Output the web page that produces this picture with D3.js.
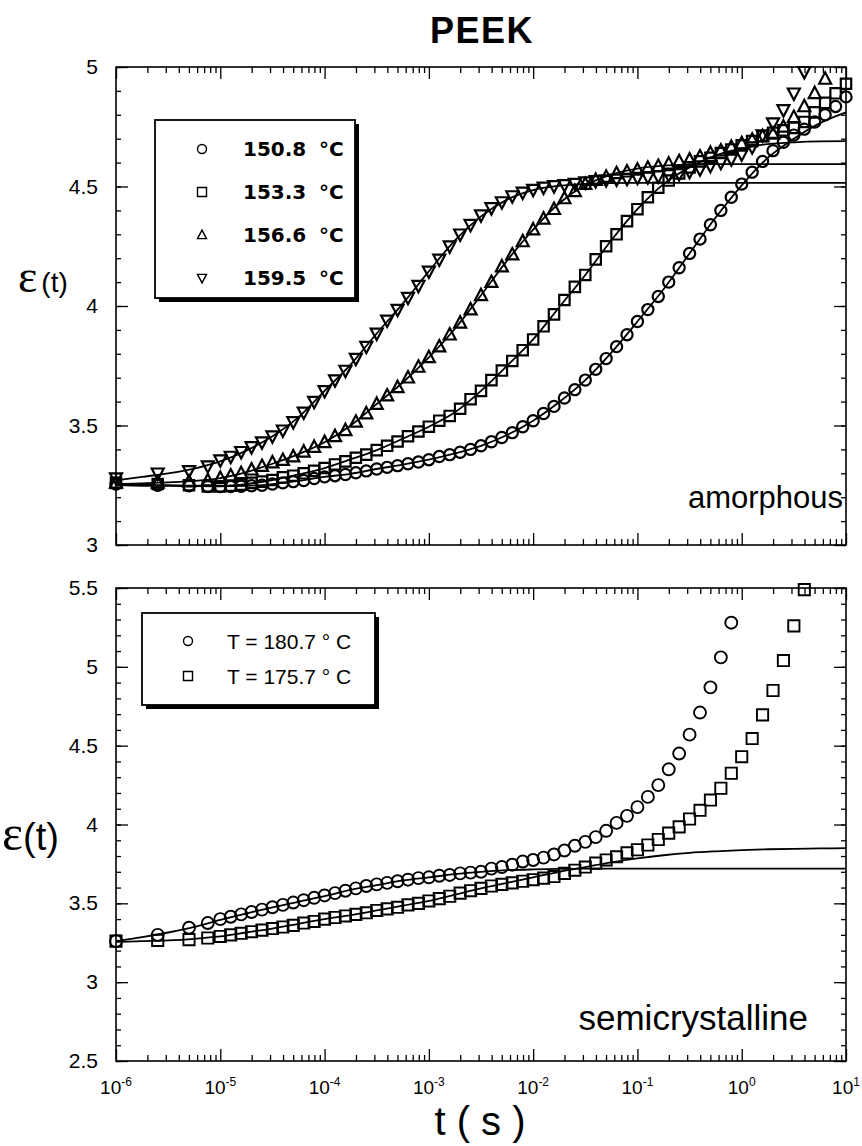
<!DOCTYPE html>
<html>
<head>
<meta charset="utf-8">
<script src="https://cdn.jsdelivr.net/npm/d3@7"></script>
<style>
body { margin: 0; background: #fff; }
text { font-family: "Liberation Sans", Arial, sans-serif; fill: #000; }
</style>
</head>
<body>
<div id="chart"></div>
<script>
// measurement times, log10(t / s)
var logT = [-6, -5.6, -5.3, -5.12,
  -5.0, -4.9, -4.8, -4.7, -4.6, -4.5, -4.4, -4.3, -4.2, -4.1,
  -4.0, -3.9, -3.8, -3.7, -3.6, -3.5, -3.4, -3.3, -3.2, -3.1,
  -3.0, -2.9, -2.8, -2.7, -2.6, -2.5, -2.4, -2.3, -2.2, -2.1,
  -2.0, -1.9, -1.8, -1.7, -1.6, -1.5, -1.4, -1.3, -1.2, -1.1,
  -1.0, -0.9, -0.8, -0.7, -0.6, -0.5, -0.4, -0.3, -0.2, -0.1,
  0.0, 0.1, 0.2, 0.3, 0.4, 0.5, 0.6, 0.7, 0.8, 0.9, 1.0];

// amorphous PEEK, measured eps(t)
var am150_8 = [3.255, 3.25, 3.248, 3.245,
  3.245, 3.245, 3.246, 3.248, 3.25, 3.255, 3.26, 3.265, 3.27, 3.278,
  3.285, 3.29, 3.295, 3.302, 3.31, 3.318, 3.325, 3.332, 3.34, 3.347,
  3.357, 3.37, 3.378, 3.388, 3.40, 3.415, 3.432, 3.45, 3.47, 3.495,
  3.52, 3.55, 3.58, 3.615, 3.65, 3.69, 3.735, 3.78, 3.83, 3.88,
  3.935, 3.985, 4.04, 4.10, 4.16, 4.22, 4.28, 4.34, 4.40, 4.455,
  4.51, 4.56, 4.605, 4.65, 4.685, 4.715, 4.74, 4.77, 4.80, 4.835, 4.875];
var am153_3 = [3.26, 3.255, 3.25, 3.245,
  3.245, 3.248, 3.252, 3.26, 3.265, 3.272, 3.283, 3.29, 3.30, 3.31,
  3.322, 3.337, 3.35, 3.365, 3.378, 3.397, 3.415, 3.433, 3.455, 3.475,
  3.495, 3.52, 3.54, 3.57, 3.61, 3.645, 3.69, 3.73, 3.77, 3.815,
  3.86, 3.915, 3.965, 4.025, 4.08, 4.13, 4.195, 4.25, 4.30, 4.355,
  4.405, 4.455, 4.495, 4.525, 4.555, 4.58, 4.605, 4.62, 4.64, 4.655,
  4.672, 4.69, 4.71, 4.725, 4.735, 4.745, 4.77, 4.81, 4.85, 4.89, 4.93];
var am156_6 = [3.26, 3.26, 3.265, 3.27,
  3.28, 3.29, 3.30, 3.315, 3.33, 3.345, 3.355, 3.37, 3.39, 3.41,
  3.43, 3.455, 3.48, 3.515, 3.55, 3.59, 3.625, 3.66, 3.70, 3.745,
  3.785, 3.83, 3.88, 3.93, 3.985, 4.045, 4.10, 4.165, 4.215, 4.27,
  4.32, 4.365, 4.405, 4.45, 4.48, 4.51, 4.527, 4.54, 4.555, 4.562,
  4.57, 4.578, 4.585, 4.595, 4.605, 4.612, 4.625, 4.64, 4.65, 4.665,
  4.68, 4.695, 4.71, 4.72, 4.75, 4.79, 4.835, 4.89, 4.95];
var am159_5 = [3.28, 3.30, 3.31, 3.33,
  3.355, 3.37, 3.39, 3.41, 3.43, 3.455, 3.48, 3.515, 3.555, 3.60,
  3.645, 3.69, 3.73, 3.78, 3.83, 3.885, 3.94, 3.985, 4.035, 4.085,
  4.145, 4.195, 4.25, 4.30, 4.34, 4.38, 4.41, 4.435, 4.46, 4.475,
  4.487, 4.496, 4.502, 4.507, 4.512, 4.518, 4.523, 4.527, 4.53, 4.533,
  4.537, 4.54, 4.543, 4.548, 4.553, 4.562, 4.573, 4.587, 4.60, 4.615,
  4.635, 4.665, 4.715, 4.765, 4.82, 4.89, 4.98];

// semicrystalline PEEK, measured eps(t)
var sc180_7 = [3.26, 3.30, 3.345, 3.375,
  3.40, 3.415, 3.43, 3.445, 3.46, 3.475, 3.49, 3.505, 3.52, 3.535,
  3.55, 3.565, 3.58, 3.595, 3.61, 3.62, 3.63, 3.64, 3.65, 3.66,
  3.665, 3.675, 3.68, 3.69, 3.695, 3.70, 3.72, 3.73, 3.745, 3.765,
  3.775, 3.79, 3.81, 3.835, 3.865, 3.89, 3.92, 3.96, 4.01, 4.055,
  4.11, 4.175, 4.25, 4.35, 4.45, 4.57, 4.71, 4.87, 5.06, 5.28];
var sc175_7 = [3.26, 3.265, 3.27, 3.28,
  3.29, 3.30, 3.31, 3.32, 3.33, 3.34, 3.35, 3.36, 3.375, 3.385,
  3.40, 3.41, 3.42, 3.43, 3.44, 3.455, 3.465, 3.475, 3.49, 3.50,
  3.515, 3.53, 3.545, 3.565, 3.58, 3.595, 3.61, 3.62, 3.63, 3.64,
  3.65, 3.66, 3.67, 3.69, 3.71, 3.73, 3.755, 3.775, 3.795, 3.82,
  3.84, 3.87, 3.905, 3.945, 3.985, 4.035, 4.09, 4.155, 4.23, 4.325,
  4.43, 4.545, 4.695, 4.85, 5.04, 5.26, 5.49];

// fitted curves, log10(t / s)
var fitLogT = [-6, -5.75, -5.5, -5.25, -5, -4.75, -4.5, -4.25, -4, -3.75,
  -3.5, -3.25, -3, -2.75, -2.5, -2.25, -2, -1.75, -1.5, -1.25,
  -1, -0.75, -0.5, -0.25, 0, 0.25, 0.5, 0.75, 1];
var fit150_8 = [3.25, 3.248, 3.247, 3.246, 3.245, 3.247, 3.255, 3.268, 3.285, 3.298,
  3.318, 3.336, 3.357, 3.383, 3.415, 3.46, 3.52, 3.598, 3.69, 3.805,
  3.935, 4.07, 4.22, 4.37, 4.505, 4.62, 4.70, 4.765, 4.81];
var fit153_3 = [3.255, 3.252, 3.25, 3.248, 3.248, 3.255, 3.272, 3.295, 3.322, 3.358,
  3.397, 3.445, 3.495, 3.555, 3.645, 3.75, 3.86, 3.995, 4.13, 4.275,
  4.405, 4.51, 4.58, 4.63, 4.66, 4.677, 4.685, 4.689, 4.69];
var fit156_6 = [3.255, 3.258, 3.262, 3.268, 3.28, 3.305, 3.34, 3.38, 3.43, 3.50,
  3.59, 3.68, 3.785, 3.905, 4.045, 4.19, 4.32, 4.43, 4.505, 4.55,
  4.575, 4.587, 4.592, 4.594, 4.594, 4.594, 4.594, 4.594, 4.594];
var fit159_5 = [3.27, 3.285, 3.30, 3.32, 3.35, 3.395, 3.455, 3.535, 3.645, 3.755,
  3.885, 4.01, 4.145, 4.275, 4.375, 4.445, 4.485, 4.503, 4.511, 4.514,
  4.515, 4.515, 4.515, 4.515, 4.515, 4.515, 4.515, 4.515, 4.515];
var fit180_7 = [3.26, 3.285, 3.315, 3.35, 3.395, 3.435, 3.475, 3.51, 3.545, 3.585,
  3.615, 3.645, 3.665, 3.685, 3.70, 3.71, 3.715, 3.718, 3.72, 3.72,
  3.72, 3.72, 3.72, 3.72, 3.72, 3.72, 3.72, 3.72, 3.72];
var fit175_7 = [3.255, 3.26, 3.265, 3.275, 3.29, 3.315, 3.34, 3.37, 3.40, 3.425,
  3.455, 3.485, 3.515, 3.555, 3.595, 3.63, 3.665, 3.70, 3.73, 3.76,
  3.785, 3.805, 3.82, 3.83, 3.838, 3.843, 3.846, 3.848, 3.85];

// labels
var xTickExps = [-6, -5, -4, -3, -2, -1, 0, 1];
var yTicksTop = [3, 3.5, 4, 4.5, 5];
var yTicksBottom = [2.5, 3, 3.5, 4, 4.5, 5, 5.5];
var topLegend = ["150.8", "153.3", "156.6", "159.5"];
var bottomLegend = ["T = 180.7 \u00b0 C", "T = 175.7 \u00b0 C"];

var W = 862, H = 1146;
var left = 116, right = 846;

var svg = d3.select("#chart").append("svg")
  .attr("width", W).attr("height", H)
  .style("background", "#fff");

var x = d3.scaleLog().domain([1e-6, 10]).range([left, right]);

function shapePath(shape, s) {
  if (shape == "circle") return "M" + s + ",0A" + s + "," + s + " 0 1,1 " + (-s) + ",0A" + s + "," + s + " 0 1,1 " + s + ",0Z";
  if (shape == "square") return "M" + (-s) + "," + (-s) + "H" + s + "V" + s + "H" + (-s) + "Z";
  if (shape == "up") return "M0," + (-s * 1.1) + "L" + s + "," + (s * 0.8) + "L" + (-s) + "," + (s * 0.8) + "Z";
  return "M0," + (s * 1.1) + "L" + s + "," + (-s * 0.8) + "L" + (-s) + "," + (-s * 0.8) + "Z";
}

function drawPanel(top, bottom, yMin, yMax, yTicks) {
  var y = d3.scaleLinear().domain([yMin, yMax]).range([bottom, top]);
  var g = svg.append("g");

  var xMinor = x.ticks().filter(function(d) { return Math.abs(Math.log10(d) - Math.round(Math.log10(d))) > 1e-6; });
  var xMajor = xTickExps.map(function(e) { return Math.pow(10, e); });
  var yMinor = d3.range(Math.round(yMin * 10), Math.round(yMax * 10) + 1).map(function(d) { return d / 10; });

  function axis(gen, values, size, tx, ty) {
    var a = g.append("g").attr("transform", "translate(" + tx + "," + ty + ")")
      .call(gen.tickValues(values).tickSize(size).tickFormat(""));
    a.select(".domain").remove();
    a.selectAll("line").attr("stroke", "#000").attr("stroke-width", 1.3);
  }
  axis(d3.axisBottom(x), xMinor, -6, 0, bottom);
  axis(d3.axisBottom(x), xMajor, -12, 0, bottom);
  axis(d3.axisTop(x), xMinor, -6, 0, top);
  axis(d3.axisTop(x), xMajor, -12, 0, top);
  axis(d3.axisLeft(y), yMinor, -5, left, 0);
  axis(d3.axisLeft(y), yTicks, -12, left, 0);
  axis(d3.axisRight(y), yMinor, -5, right, 0);
  axis(d3.axisRight(y), yTicks, -12, right, 0);

  g.append("rect").attr("x", left).attr("y", top)
    .attr("width", right - left).attr("height", bottom - top)
    .attr("fill", "none").attr("stroke", "#000").attr("stroke-width", 1.6);

  g.selectAll(".ylab").data(yTicks).enter().append("text")
    .attr("x", 98).attr("y", function(d) { return y(d) + 7; })
    .attr("text-anchor", "end").style("font-size", "21px")
    .text(function(d) { return d; });

  return y;
}

function drawFit(y, vals) {
  var line = d3.line()
    .x(function(d) { return x(Math.pow(10, d[0])); })
    .y(function(d) { return y(d[1]); })
    .curve(d3.curveMonotoneX);
  svg.append("path").datum(d3.zip(fitLogT, vals))
    .attr("d", line).attr("fill", "none")
    .attr("stroke", "#000").attr("stroke-width", 1.8);
}

function drawPoints(y, vals, shape, s, sw) {
  svg.append("g").selectAll("path").data(d3.zip(logT.slice(0, vals.length), vals))
    .enter().append("path")
    .attr("transform", function(d) { return "translate(" + x(Math.pow(10, d[0])) + "," + y(d[1]) + ")"; })
    .attr("d", shapePath(shape, s))
    .attr("fill", "none").attr("stroke", "#000").attr("stroke-width", sw);
}

// ---------- top panel: amorphous ----------
var yTop = drawPanel(67, 545, 3, 5, yTicksTop);
[fit150_8, fit153_3, fit156_6, fit159_5].forEach(function(f) { drawFit(yTop, f); });
drawPoints(yTop, am150_8, "circle", 5.6, 2.2);
drawPoints(yTop, am153_3, "square", 5.2, 2.2);
drawPoints(yTop, am156_6, "up", 6, 2.2);
drawPoints(yTop, am159_5, "down", 6, 2.2);

// ---------- bottom panel: semicrystalline ----------
var yBot = drawPanel(588, 1061, 2.5, 5.5, yTicksBottom);
[fit180_7, fit175_7].forEach(function(f) { drawFit(yBot, f); });
drawPoints(yBot, sc180_7, "circle", 6, 1.9);
drawPoints(yBot, sc175_7, "square", 5.6, 1.9);

// x tick labels
var xl = svg.append("g").selectAll("text").data(xTickExps).enter().append("text")
  .attr("x", function(d) { return x(Math.pow(10, d)); })
  .attr("y", 1094).attr("text-anchor", "middle").style("font-size", "19px");
xl.append("tspan").text("10");
xl.append("tspan").attr("dy", -8).style("font-size", "12px").text(function(d) { return d; });

// legends
function legendBox(bx, by, bw, bh) {
  svg.append("rect").attr("x", bx + 4).attr("y", by + 4).attr("width", bw).attr("height", bh).attr("fill", "#000");
  svg.append("rect").attr("x", bx).attr("y", by).attr("width", bw).attr("height", bh)
    .attr("fill", "#fff").attr("stroke", "#000").attr("stroke-width", 1.8);
}
legendBox(155, 120, 200, 178);
var topShapes = ["circle", "square", "up", "down"];
topLegend.forEach(function(t, i) {
  var cy = 149 + i * 43;
  svg.append("path").attr("transform", "translate(202," + cy + ")")
    .attr("d", shapePath(topShapes[i], 4.5)).attr("fill", "none").attr("stroke", "#000").attr("stroke-width", 1.4);
  svg.append("text").attr("x", 243).attr("y", cy + 7)
    .style("font-family", "'DejaVu Sans', sans-serif").style("font-weight", "bold").style("font-size", "20px").text(t);
  svg.append("text").attr("x", 319).attr("y", cy + 7)
    .style("font-family", "'DejaVu Sans', sans-serif").style("font-weight", "bold").style("font-size", "20px").text("\u00b0C");
});

legendBox(142, 613, 233, 92);
var botShapes = ["circle", "square"];
bottomLegend.forEach(function(t, i) {
  var cy = 641 + i * 35;
  svg.append("path").attr("transform", "translate(188," + cy + ")")
    .attr("d", shapePath(botShapes[i], 4.5)).attr("fill", "none").attr("stroke", "#000").attr("stroke-width", 1.4);
  svg.append("text").attr("x", 227).attr("y", cy + 8).style("font-size", "21px").text(t);
});

// titles
svg.append("text").attr("x", 482).attr("y", 43).attr("text-anchor", "middle")
  .style("font-weight", "bold").style("font-size", "36px").style("letter-spacing", "1.5px").text("PEEK");
svg.append("text").attr("x", 843).attr("y", 508).attr("text-anchor", "end")
  .style("font-size", "31px").text("amorphous");
svg.append("text").attr("x", 808).attr("y", 1030).attr("text-anchor", "end")
  .style("font-size", "35px").text("semicrystalline");
svg.append("text").attr("x", 480).attr("y", 1135).attr("text-anchor", "middle")
  .style("font-size", "40px").attr("xml:space", "preserve").text("t ( s )");

var e1 = svg.append("text").attr("x", 18).attr("y", 292);
e1.append("tspan").style("font-family", "'Liberation Serif', serif").style("font-size", "46px").text("\u03b5");
e1.append("tspan").attr("dx", 4).style("font-size", "28px").text("(t)");
var e2 = svg.append("text").attr("x", 2).attr("y", 850);
e2.append("tspan").style("font-family", "'Liberation Serif', serif").style("font-size", "50px").text("\u03b5");
e2.append("tspan").style("font-size", "38px").text("(t)");
</script>
</body>
</html>
